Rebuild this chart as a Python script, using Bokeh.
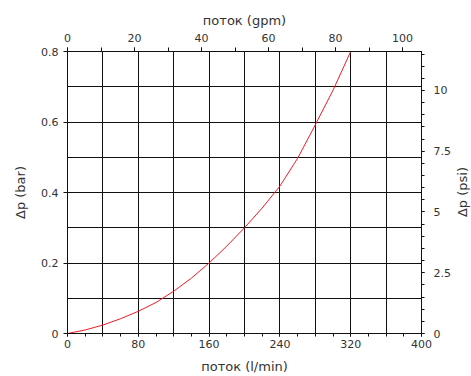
import math
from bokeh.plotting import figure
from bokeh.models import (LinearAxis, Range1d, FixedTicker, CustomJSTickFormatter, Label)
from bokeh.embed import file_html
from bokeh.resources import INLINE

# Pressure drop versus flow
flow_lpm = [0, 20, 40, 60, 80, 100, 120, 140, 160, 180, 200, 220, 240, 260, 280, 300, 320]
dp_bar = [0.0, 0.010, 0.024, 0.042, 0.063, 0.088, 0.120, 0.157, 0.200, 0.248, 0.300,
          0.356, 0.418, 0.497, 0.592, 0.690, 0.800]

x_ticks = [0, 80, 160, 240, 320, 400]
x_grid = list(range(0, 401, 40))
x_minor = list(range(0, 401, 20))
y_ticks = [0.0, 0.2, 0.4, 0.6, 0.8]
y_grid = [0.0, 0.1, 0.2, 0.3, 0.4, 0.5, 0.6, 0.7, 0.8]
gpm_ticks = [0, 20, 40, 60, 80, 100]
gpm_minor = list(range(0, 101, 10))
psi_ticks = [0, 2.5, 5, 7.5, 10]
psi_minor = [i * 0.5 for i in range(0, 24)]

LPM_PER_GPM = 3.78541
PSI_PER_BAR = 14.5038

FONT = "DejaVu Sans"
TXT = "#333333"

p = figure(width=471, height=376, output_backend="svg", toolbar_location=None,
           x_range=Range1d(0, 400), y_range=Range1d(0, 0.8),
           min_border_left=67, min_border_right=50, min_border_top=51, min_border_bottom=42,
           x_axis_location=None, y_axis_location=None)
p.outline_line_color = "#111111"
p.background_fill_color = "white"
p.border_fill_color = "white"

p.extra_x_ranges = {"gpm": Range1d(0, 400 / LPM_PER_GPM)}
p.extra_y_ranges = {"psi": Range1d(0, 0.8 * PSI_PER_BAR)}


def style(ax, title, tick_out, std, title_std):
    ax.axis_label = title
    ax.axis_label_text_font = FONT
    ax.axis_label_text_font_size = "13px"
    ax.axis_label_text_font_style = "normal"
    ax.axis_label_text_color = TXT
    ax.axis_label_standoff = title_std
    ax.major_label_text_font = FONT
    ax.major_label_text_font_size = "11px"
    ax.major_label_text_color = TXT
    ax.major_label_standoff = std
    ax.axis_line_color = "#111111"
    ax.major_tick_line_color = "#111111"
    ax.minor_tick_line_color = "#111111"
    ax.major_tick_in = 0
    ax.major_tick_out = tick_out
    ax.minor_tick_in = 0
    ax.minor_tick_out = tick_out


fmt = CustomJSTickFormatter(code="return tick.toString();")

bottom = LinearAxis(ticker=FixedTicker(ticks=x_ticks, minor_ticks=x_minor), formatter=fmt)
style(bottom, "поток (l/min)", 3, 3, 8)
p.add_layout(bottom, "below")

top = LinearAxis(x_range_name="gpm", ticker=FixedTicker(ticks=gpm_ticks, minor_ticks=gpm_minor),
                 formatter=fmt)
style(top, "поток (gpm)", 4, 6, 3)
p.add_layout(top, "above")

left = LinearAxis(ticker=FixedTicker(ticks=y_ticks))
style(left, "Δp (bar)", 4, 5, 10)
p.add_layout(left, "left")

right = LinearAxis(y_range_name="psi", ticker=FixedTicker(ticks=psi_ticks, minor_ticks=psi_minor),
                   formatter=fmt)
style(right, None, 3, 9, 0)
p.add_layout(right, "right")

# right-hand axis title, reading bottom to top like the left one
p.add_layout(Label(x=9, y=141.5, x_units="screen", y_units="screen", text="Δp (psi)",
                   angle=math.pi / 2, text_align="center", text_baseline="middle",
                   text_font=FONT, text_font_size="13px", text_color=TXT), "right")

p.xgrid.ticker = FixedTicker(ticks=x_grid)
p.ygrid.ticker = FixedTicker(ticks=y_grid)
for g in (p.xgrid, p.ygrid):
    g.grid_line_color = "#111111"
    g.grid_line_width = 1
    g.grid_line_alpha = 1.0

p.line(flow_lpm, dp_bar, line_color="#ee1c25", line_width=1)

open("out.html", "w").write(file_html(p, INLINE))
